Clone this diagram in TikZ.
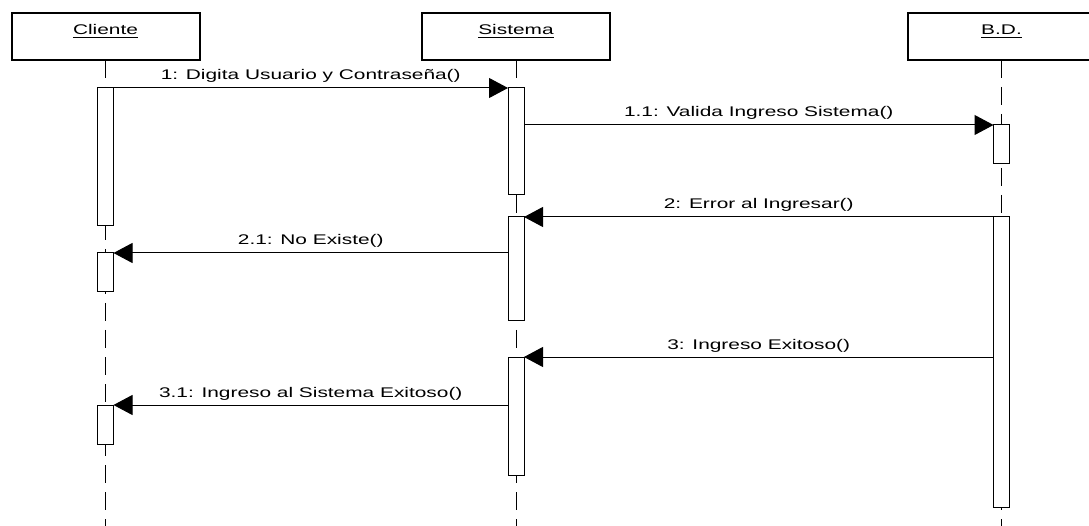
\documentclass[tikz,border=0pt]{standalone}
\usepackage{fontspec}
\setmainfont{Liberation Sans}[FakeStretch=1.49]
\usetikzlibrary{arrows.meta}

\begin{document}
\begin{tikzpicture}[x=1pt,y=-1pt,
  every node/.style={font=\fontsize{14}{16}\selectfont},
  objbox/.style={draw, line width=2pt, minimum width=188pt, minimum height=47pt,
                 inner sep=0pt, outer sep=0pt},
  objname/.style={inner sep=0pt, anchor=base},
  underl/.style={line width=1pt},
  lifeline/.style={line width=1pt, dash pattern=on 18pt off 9pt},
  actbar/.style={draw, fill=white, line width=1pt, minimum width=16pt,
                 inner sep=0pt, outer sep=0pt, anchor=north},
  msg/.style={line width=1pt, -{Triangle[length=19pt,width=20pt]}},
  msglabel/.style={midway, anchor=base, yshift=8pt, inner sep=0pt}
]
  % page
  \path[use as bounding box] (0,0) rectangle (1089,526);
  \fill[white] (0,0) rectangle (1089,526);
  \clip (0,0) rectangle (1089,526);

  % object headers
  \node[objbox] (cbox) at (105.5,36.5) {};
  \node[objbox] (sbox) at (516,36.5) {};
  \node[objbox] (bbox) at (1001.5,36.5) {};

  \node[objname] (cname) at (105.5,35) {Cliente};
  \node[objname] (sname) at (516,35) {Sistema};
  \node[objname] (bname) at (1001.5,35) {B.D.};
  \foreach \n in {cname,sname,bname}
    \draw[underl] ([yshift=-2.5pt]\n.base west) -- ([yshift=-2.5pt]\n.base east);

  % lifelines
  \coordinate (cend) at (105.5,526);
  \coordinate (send) at (516,526);
  \coordinate (bend) at (1001.5,526);
  \draw[lifeline] (cbox.south) -- (cend);
  \draw[lifeline] (sbox.south) -- (send);
  \draw[lifeline] (bbox.south) -- (bend);

  % activation bars
  \node[actbar, minimum height=138pt] (ca1) at (105.5,88) {};
  \node[actbar, minimum height=39pt]  (ca2) at (105.5,253) {};
  \node[actbar, minimum height=39pt]  (ca3) at (105.5,405) {};
  \node[actbar, minimum height=107pt] (sa1) at (516,88) {};
  \node[actbar, minimum height=104pt] (sa2) at (516,217) {};
  \node[actbar, minimum height=118pt] (sa3) at (516,357) {};
  \node[actbar, minimum height=39pt]  (ba1) at (1001.5,125) {};
  \node[actbar, minimum height=290pt] (ba2) at (1001.5,217) {};

  % messages
  \draw[msg] (ca1.north east) -- node[msglabel] {1: Digita Usuario y Contraseña()} (sa1.north west);
  \draw[msg] (sa1.east |- ba1.north west) -- node[msglabel] {1.1: Valida Ingreso Sistema()} (ba1.north west);
  \draw[msg] (ba2.north west) -- node[msglabel] {2: Error al Ingresar()} (sa2.north east);
  \draw[msg] (sa2.west |- ca2.north east) -- node[msglabel] {2.1: No Existe()} (ca2.north east);
  \draw[msg] (ba2.west |- sa3.north east) -- node[msglabel] {3: Ingreso Exitoso()} (sa3.north east);
  \draw[msg] (sa3.west |- ca3.north east) -- node[msglabel] {3.1: Ingreso al Sistema Exitoso()} (ca3.north east);
\end{tikzpicture}
\end{document}
